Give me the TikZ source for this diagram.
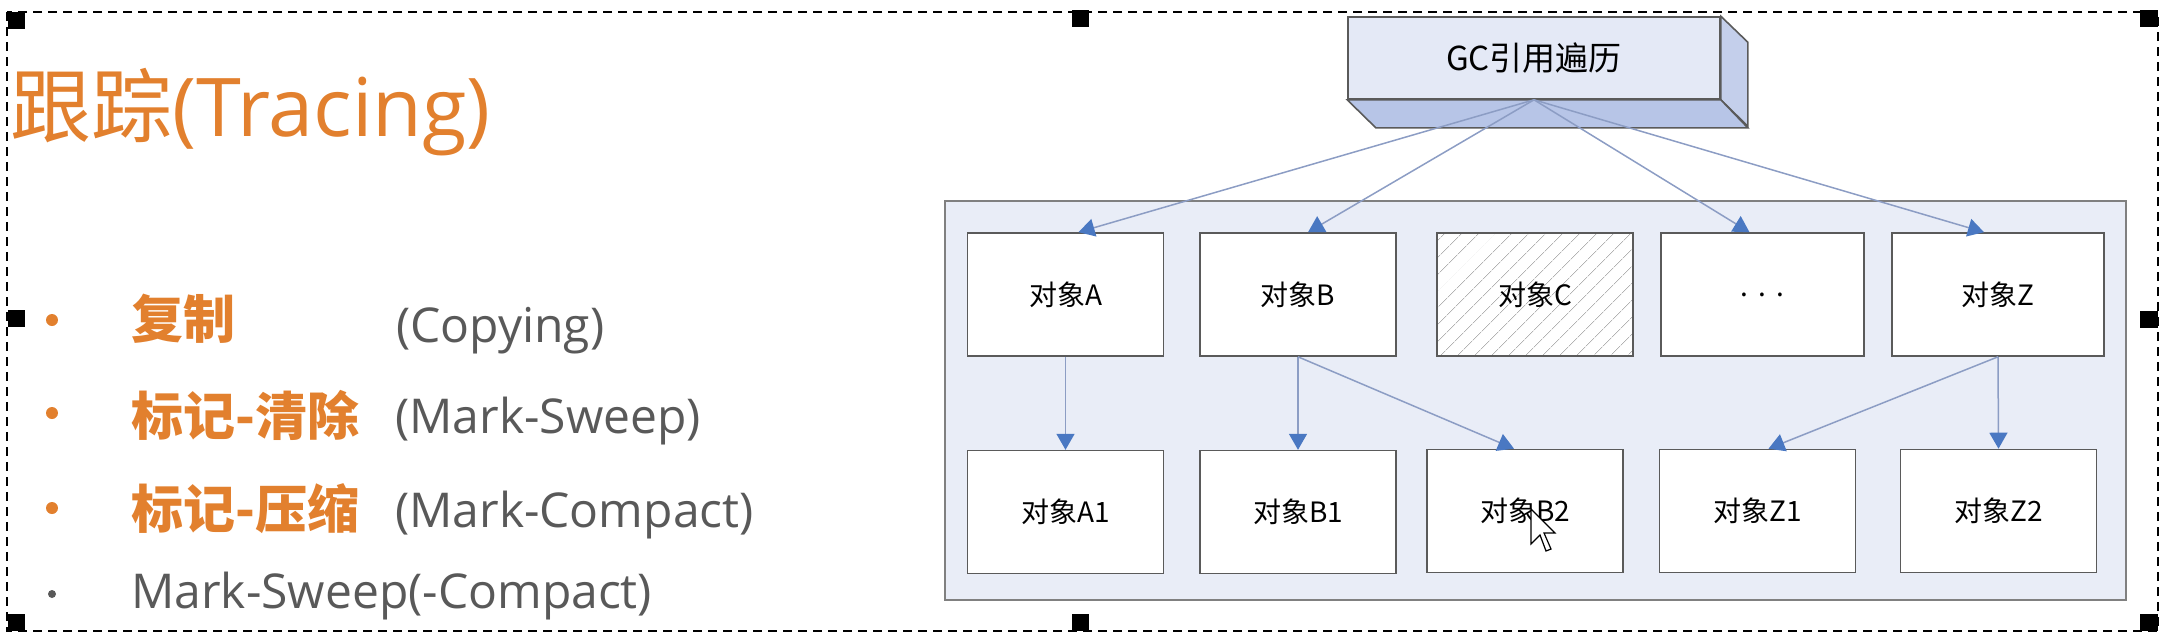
\documentclass[tikz,border=0pt]{standalone}
\usepackage{fontspec}
\setmainfont{Open Sans}
\newfontfamily\cjk{Noto Sans CJK SC}
\usetikzlibrary{positioning,arrows.meta,calc,patterns.meta}

\definecolor{tracorange}{RGB}{226,128,46}
\definecolor{textgray}{RGB}{89,89,89}
\definecolor{heapfill}{RGB}{233,237,247}
\definecolor{heapline}{RGB}{128,128,128}
\definecolor{boxline}{RGB}{90,90,90}
\definecolor{gcfront}{RGB}{228,233,246}
\definecolor{gcside}{RGB}{196,207,235}
\definecolor{gcbottom}{RGB}{183,197,231}
\definecolor{refline}{RGB}{140,157,196}
\definecolor{refhead}{RGB}{74,120,194}

\begin{document}
\begin{tikzpicture}[
        x=1pt, y=-1pt,
        objnode/.style={rectangle, draw=boxline, line width=1.6pt, fill=white, minimum width=196pt, minimum height=123pt, font=\cjk\fontsize{28}{32}\selectfont},
        heapbox/.style={rectangle, draw=heapline, line width=2pt, fill=heapfill, minimum width=1181pt, minimum height=399pt},
        gcbox/.style={rectangle, draw=boxline, line width=1.6pt, fill=gcfront, minimum width=372pt, minimum height=82pt, font=\cjk\fontsize{33}{38}\selectfont},
        gcface/.style={draw=boxline, line width=1.6pt, fill=gcside},
        ref/.style={draw=refline, line width=1.5pt, -{Triangle[color=refhead, width=18pt, length=16pt]}},
        titletext/.style={anchor=base west, inner sep=0pt, text=tracorange, font=\fontsize{81}{92}\selectfont},
        bigitem/.style={anchor=base west, inner sep=0pt, text=tracorange, font=\cjk\bfseries\fontsize{52}{58}\selectfont},
        enitem/.style={anchor=base west, inner sep=0pt, text=textgray, font=\fontsize{48}{56}\selectfont},
        handle/.style={fill=black}
    ]
    \useasboundingbox (0,0) rectangle (2166,640);

    % left side: title and list
    \node[titletext] (title) at (10,136) {{\cjk 跟踪}(Tracing)};
    \fill[tracorange] (52,320) circle (6pt);
    \fill[tracorange] (52,413) circle (6pt);
    \fill[tracorange] (52,508) circle (6pt);
    \fill[textgray] (52,594) circle (4pt);
    \node[bigitem] (copy) at (131,338) {复制};
    \node[enitem] (copyen) at (396,342) {(Copying)};
    \node[bigitem] (sweep) at (131,435) {标记-清除};
    \node[enitem] (sweepen) at (395,433) {(Mark-Sweep)};
    \node[bigitem] (compact) at (131,528) {标记-压缩};
    \node[enitem] (compacten) at (395,527) {(Mark-Compact)};
    \node[enitem] (both) at (131,608) {Mark-Sweep(-Compact)};

    % heap with objects
    \node[heapbox] (heap) at (1535.5,400.5) {};
    \node[objnode] (A) at (1065.5,294.5) {对象A};
    \node[objnode] (B) at (1298,294.5) {对象B};
    \node[objnode, preaction={fill=white}, pattern={Lines[angle=45, distance=13pt, line width=0.8pt]}, pattern color=gray!60] (C) at (1535,294.5) {对象C};
    \node[objnode, minimum width=203pt] (D) at (1762.5,294.5) {.\hspace{10pt}.\hspace{10pt}.};
    \node[objnode, minimum width=212pt] (Z) at (1998,294.5) {对象Z};
    \node[objnode, below=93pt of A] (A1) {对象A1};
    \node[objnode, below=93pt of B] (B1) {对象B1};
    \node[objnode] (B2) at (1525,511) {对象B2};
    \node[objnode] (Z1) at (1757.5,511) {对象Z1};
    \node[objnode] (Z2) at (1998.5,511) {对象Z2};

    % GC box
    \node[gcbox] (GC) at (1534,58) {GC引用遍历};
    \filldraw[gcface] (GC.north east) -- ++(27,26) -- ++(0,84) -- (GC.south east) -- cycle;
    \filldraw[gcface, fill=gcbottom] (GC.south west) -- (GC.south east) -- ++(27,28) -- ++(-372,0) -- cycle;

    % references
    \draw[ref] (GC.south) -- ([xshift=13pt]A.north);
    \draw[ref] (GC.south) -- ([xshift=10pt]B.north);
    \draw[ref] (GC.south) -- ([xshift=-13pt]D.north);
    \draw[ref] (GC.south) -- ([xshift=-14pt]Z.north);
    \draw[ref] (A.south) -- (A1.north);
    \draw[ref] (B.south) -- (B1.north);
    \draw[ref] (B.south) -- ([xshift=-11pt]B2.north);
    \draw[ref] (Z.south) -- ([xshift=11pt]Z1.north);
    \draw[ref] (Z.south) -- (Z2.north);

    % mouse pointer
    \filldraw[fill=white, draw=black, line width=1.2pt] (1531,509) -- ++(0,35) -- ++(9,-9) -- ++(6,16) -- ++(5,-2) -- ++(-7,-16) -- ++(11,0) -- cycle;

    % selection frame
    \draw[line width=2pt, dash pattern=on 9pt off 6pt] (7,12) rectangle (2158,631);
    \fill[handle] (8,12) rectangle ++(17,17);
    \fill[handle] (1072,10) rectangle ++(17,17);
    \fill[handle] (2140,10) rectangle ++(18,17);
    \fill[handle] (8,310) rectangle ++(17,17);
    \fill[handle] (2140,311) rectangle ++(18,17);
    \fill[handle] (8,614) rectangle ++(17,17);
    \fill[handle] (1072,614) rectangle ++(17,17);
    \fill[handle] (2140,614) rectangle ++(18,17);
\end{tikzpicture}
\end{document}
